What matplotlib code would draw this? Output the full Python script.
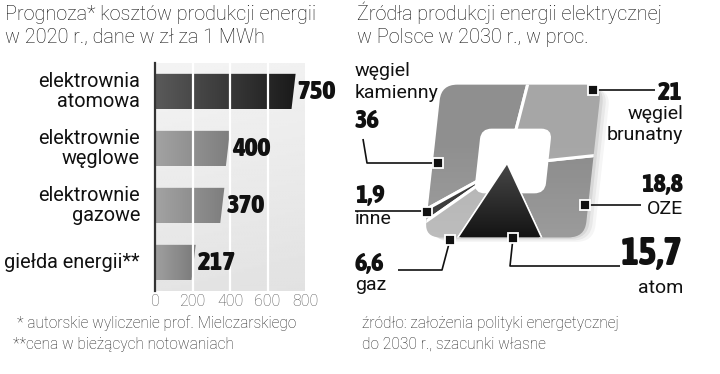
import numpy as np
import matplotlib
matplotlib.use("Agg")
import matplotlib.pyplot as plt
from matplotlib import font_manager as fm
from matplotlib.patches import Polygon, FancyBboxPatch
from matplotlib.transforms import Affine2D

# ---------------- data ----------------
cost_labels = ["elektrownia\natomowa", "elektrownie\nwęglowe", "elektrownie\ngazowe", "giełda energii**"]
cost_values = [750, 400, 370, 217]
cost_ticks = [0, 200, 400, 600, 800]

mix_labels = ["węgiel kamienny", "inne", "gaz", "atom", "OZE", "węgiel brunatny"]
mix_values = [36, 1.9, 6.6, 15.7, 18.8, 21]
mix_texts = ["36", "1,9", "6,6", "15,7", "18,8", "21"]

# ---------------- fonts ----------------
TXT = ["Roboto", "DejaVu Sans"]

def pick_condensed_bold():
    cands = []
    for f in fm.fontManager.ttflist:
        name = f.name + " " + str(f.fname)
        w = f.weight if isinstance(f.weight, int) else {"bold": 700, "heavy": 800, "black": 900}.get(f.weight, 400)
        cond = (str(f.stretch) in ("condensed", "semi-condensed", "extra-condensed", "ultra-condensed")
                or "Narrow" in name or "Condensed" in name or "Cond" in name)
        if cond and w >= 600 and "Oblique" not in name and "Italic" not in name:
            cands.append((-w, f.fname))
    cands.sort()
    if cands:
        return fm.FontProperties(fname=cands[0][1])
    return None

COND = pick_condensed_bold()

def numprops(size):
    if COND is not None:
        p = COND.copy()
        p.set_size(size)
        return dict(fontproperties=p)
    return dict(family=["Roboto", "DejaVu Sans"], fontweight="black", fontsize=size * 0.9)

W, H = 720, 374
fig = plt.figure(figsize=(W / 100, H / 100), dpi=100)
fig.patch.set_facecolor("white")

def fx(px):
    return px / W

def fy(py):
    return 1 - py / H

# ---------------- left: bar chart ----------------
ax1 = fig.add_axes([fx(155), fy(291), fx(305) - fx(155), (291 - 63) / H])
ypos = np.arange(len(cost_values))
ax1.set_xlim(0, 800)
ax1.set_ylim(3.5, -0.5)

gy, gx = np.mgrid[0:1:100j, 0:1:100j]
bg = 0.955 - 0.06 * gy - 0.01 * gx
ax1.imshow(bg, extent=[0, 800, 3.5, -0.5], cmap="gray", vmin=0, vmax=1,
           aspect="auto", zorder=0, interpolation="bilinear")

bars = ax1.barh(ypos, cost_values, height=0.62, color="none", zorder=1)
grads = [("#5a5a5a", "#1a1a1a"), ("#a3a3a3", "#7e7e7e"),
         ("#a3a3a3", "#7e7e7e"), ("#a0a0a0", "#7a7a7a")]
slant = 22
for i, (bar, (c0, c1)) in enumerate(zip(bars, grads)):
    x0, y0 = bar.get_x(), bar.get_y()
    w, h = bar.get_width(), bar.get_height()
    poly = Polygon([(x0, y0), (x0 + w, y0), (x0 + w - slant, y0 + h), (x0, y0 + h)],
                   closed=True, facecolor="none", edgecolor="none")
    ax1.add_patch(poly)
    cmap = matplotlib.colors.LinearSegmentedColormap.from_list("g", [c0, c1])
    grad = np.linspace(0, 1, 256).reshape(1, -1)
    im = ax1.imshow(grad, extent=[x0, x0 + w, y0 + h, y0], cmap=cmap,
                    aspect="auto", zorder=2, interpolation="bilinear")
    im.set_clip_path(poly)
    ax1.text(x0 + w + 10, y0 + h / 2, f"{cost_values[i]}", ha="left", va="center",
             color="#111111", zorder=5, clip_on=False, **numprops(19.5))

for v in cost_ticks[1:-1]:
    ax1.axvline(v, color="white", lw=1.6, zorder=3)

ax1.set_xticks(cost_ticks)
ax1.set_xticklabels([str(t) for t in cost_ticks], family=TXT, fontsize=11.5,
                    color="#555555", fontweight="light")
ax1.tick_params(axis="x", length=0, pad=2)
ax1.set_yticks([])
for s in ["top", "right", "bottom"]:
    ax1.spines[s].set_visible(False)
ax1.spines["left"].set_color("#333333")
ax1.spines["left"].set_linewidth(1.6)
ax1.spines["left"].set_zorder(6)

tr = matplotlib.transforms.blended_transform_factory(ax1.transAxes, ax1.transData)
for yv, lab in zip(ypos, cost_labels):
    ax1.text(-0.1, yv, lab, transform=tr, ha="right", va="center", multialignment="right",
             fontsize=14.3, family=TXT, color="#111111", linespacing=1.08)

# ---------------- right: rounded-square pie ----------------
ax2 = fig.add_axes([fx(425), fy(245), 176 / W, 168 / H])
ax2.set_axis_off()
skew = Affine2D().skew_deg(6, 0)
mix_colors = ["#8f8f8f", "#2a2a2a", "#b2b2b2", "#242424", "#8b8b8b", "#a6a6a6"]

for off, a in [(0.12, 0.04), (0.08, 0.05), (0.04, 0.07)]:
    sh = FancyBboxPatch((-1 + off, -1 - off * 0.5), 2, 2,
                        boxstyle="round,pad=0,rounding_size=0.22",
                        facecolor="black", edgecolor="none", alpha=a, zorder=0)
    sh.set_transform(skew + ax2.transData)
    sh.set_clip_on(False)
    ax2.add_patch(sh)

clip = FancyBboxPatch((-1, -1), 2, 2, boxstyle="round,pad=0,rounding_size=0.2",
                      facecolor="none", edgecolor="none")
clip.set_transform(skew + ax2.transData)
ax2.add_patch(clip)

wedges, _ = ax2.pie(mix_values, startangle=82, counterclock=True, radius=3,
                    center=(-0.07, -0.05), colors=mix_colors,
                    wedgeprops=dict(edgecolor="white", linewidth=2.2))
for i, wdg in enumerate(wedges):
    wdg.set_transform(skew + ax2.transData)
    wdg.set_clip_on(True)
    wdg.set_clip_path(clip)
    wdg.set_zorder(3 if mix_labels[i] == "atom" else 1)

ly, lx = np.mgrid[0:1:100j, 0:1:100j]
light = np.zeros((100, 100, 4))
light[..., :3] = 1.0
light[..., 3] = np.clip(0.22 * ly - 0.08, 0, 1)
lim = ax2.imshow(light, extent=[-1, 1, -1, 1], origin="upper", aspect="auto",
                 zorder=1.5, interpolation="bilinear")
lim.set_transform(skew + ax2.transData)
lim.set_clip_path(clip)

atom_w = wedges[mix_labels.index("atom")]
agrad = np.linspace(0, 1, 100).reshape(-1, 1)
acmap = matplotlib.colors.LinearSegmentedColormap.from_list("a", ["#4a4a4a", "#141414"])
aim = ax2.imshow(agrad, extent=[-1, 1, -1, 0], origin="upper", cmap=acmap, aspect="auto",
                 zorder=3.1, interpolation="bilinear")
aim.set_transform(skew + ax2.transData)
aim.set_clip_path(atom_w)

hole = FancyBboxPatch((-0.43, -0.41), 0.86, 0.82,
                      boxstyle="round,pad=0,rounding_size=0.12",
                      facecolor="white", edgecolor="white", lw=1.5, zorder=2)
hole.set_transform(skew + ax2.transData)
ax2.add_patch(hole)
ax2.set_aspect("auto")
ax2.set_xlim(-1.1, 1.1)
ax2.set_ylim(-1.1, 1.1)

# ---------------- overlay: text, leaders ----------------
ov = fig.add_axes([0, 0, 1, 1], zorder=10)
ov.set_xlim(0, W)
ov.set_ylim(H, 0)
ov.set_axis_off()
ov.patch.set_alpha(0)

def t(x, y, s, **kw):
    base = dict(color="#111111", va="baseline")
    if "fontproperties" not in kw:
        base["family"] = TXT
    base.update(kw)
    ov.text(x, y, s, **base)

t(5, 20, "Prognoza* kosztów produkcji energii", fontsize=14.3, fontweight="light")
t(5, 43, "w 2020 r., dane w zł za 1 MWh", fontsize=14.3, fontweight="light")
t(357, 20, "Źródła produkcji energii elektrycznej", fontsize=14.3, fontweight="light")
t(357, 43, "w Polsce w 2030 r., w proc.", fontsize=14.3, fontweight="light")

t(17, 328, "* autorskie wyliczenie prof. Mielczarskiego", fontsize=11.2, fontweight="light", color="#222222")
t(13, 349, "**cena w bieżących notowaniach", fontsize=11.2, fontweight="light", color="#222222")
t(362, 328, "źródło: założenia polityki energetycznej", fontsize=11.2, fontweight="light", color="#222222")
t(362, 349, "do 2030 r., szacunki własne", fontsize=11.2, fontweight="light", color="#222222")

lk = dict(color="#111111", lw=1.2, solid_capstyle="butt")
ov.plot([363, 367, 438], [139, 163, 163], **lk)
ov.plot([593, 655], [90, 90], **lk)
ov.plot([585, 641], [205, 205], **lk)
ov.plot([355, 427], [211, 211], **lk)
ov.plot([450, 442, 398], [240, 270, 270], **lk)
ov.plot([513, 510, 620], [238, 266, 266], **lk)
mx = [438, 427, 450, 513, 585, 593]
my = [163, 212, 240, 238, 205, 90]
ov.plot(mx, my, ls="none", marker="s", ms=6.5, mfc="#111111", mec="white", mew=1.3)

t(355, 76, "węgiel", fontsize=14)
t(355, 98, "kamienny", fontsize=14)
t(355, 128, mix_texts[0], **numprops(19))
t(683, 100, mix_texts[5], ha="right", **numprops(19))
t(683, 119, "węgiel", fontsize=14, ha="right")
t(683, 140, "brunatny", fontsize=14, ha="right")
t(683, 192, mix_texts[4], ha="right", **numprops(19))
t(683, 214, "OZE", fontsize=14, ha="right")
t(355, 203, mix_texts[1], **numprops(19))
t(355, 224, "inne", fontsize=14)
t(355, 271, mix_texts[2], **numprops(19))
t(355, 290, "gaz", fontsize=14)
t(683, 265, mix_texts[3], ha="right", **numprops(28))
t(683, 293, "atom", fontsize=14, ha="right")

fig.savefig("out.png", dpi=100, facecolor="white")
